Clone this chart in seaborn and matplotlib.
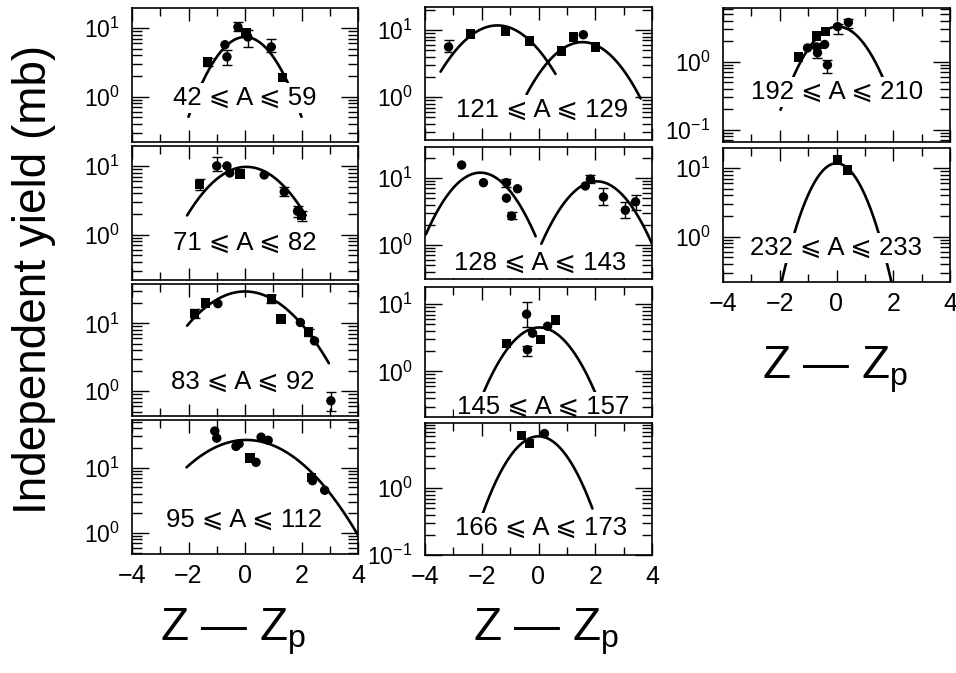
import numpy as np
import pandas as pd
import matplotlib
matplotlib.use("Agg")
import matplotlib.pyplot as plt
import seaborn as sns
from matplotlib.ticker import LogLocator, NullFormatter, LogFormatterSciNotation, FixedLocator

# ---------------------------------------------------------------------------
# Independent fission-product yields vs. charge offset Z - Zp, by mass window
# ---------------------------------------------------------------------------
mass_ranges = [(42, 59), (71, 82), (83, 92), (95, 112),
               (121, 129), (128, 143), (145, 157), (166, 173),
               (192, 210), (232, 233)]

# measured points: charge offset, yield (mb), kind of measurement
z_42_59 = [-1.32, -0.71, -0.64, -0.25, 0.04, 0.10, 0.93, 1.32]
y_42_59 = [3.2, 5.7, 3.8, 10.3, 8.5, 7.4, 5.3, 1.9]
k_42_59 = ["s", "c", "c", "c", "s", "c", "c", "s"]
lo_42_59 = [2.8, np.nan, 2.9, 9.0, np.nan, 5.3, 4.4, np.nan]
hi_42_59 = [3.6, np.nan, 4.8, 12.2, np.nan, 9.3, 6.9, np.nan]

z_71_82 = [-1.61, -1.00, -0.64, -0.54, -0.18, 0.68, 1.39, 1.86, 2.00]
y_71_82 = [5.4, 10.0, 10.0, 7.9, 7.6, 7.4, 4.2, 2.2, 1.9]
k_71_82 = ["s", "c", "c", "c", "s", "c", "c", "c", "s"]
lo_71_82 = [4.5, 8.5, np.nan, np.nan, np.nan, np.nan, 3.6, 1.8, 1.6]
hi_71_82 = [6.5, 13.4, np.nan, np.nan, np.nan, np.nan, 4.9, 2.6, 2.2]

z_83_92 = [-1.78, -1.39, -0.96, 0.93, 1.28, 1.96, 2.25, 2.46, 3.04]
y_83_92 = [14.0, 20.0, 19.5, 23.0, 11.5, 10.3, 7.4, 5.5, 0.72]
k_83_92 = ["s", "s", "c", "s", "s", "c", "s", "c", "c"]
lo_83_92 = [12.0, np.nan, np.nan, 20.0, np.nan, np.nan, 6.6, np.nan, 0.51]
hi_83_92 = [16.5, np.nan, np.nan, 26.0, np.nan, np.nan, 8.3, np.nan, 0.97]

z_95_112 = [-1.07, -1.00, -0.32, -0.21, 0.18, 0.39, 0.57, 0.82, 2.36, 2.39, 2.82]
y_95_112 = [36.0, 28.0, 21.0, 23.0, 14.0, 12.0, 29.0, 26.0, 7.1, 6.3, 4.5]
k_95_112 = ["c", "c", "c", "c", "s", "c", "c", "c", "s", "c", "c"]
lo_95_112 = [np.nan] * 11
hi_95_112 = [np.nan] * 11

z_121_129 = [-3.17, -2.39, -1.16, -0.32, 0.81, 1.23, 1.58, 2.00]
y_121_129 = [5.6, 8.7, 9.7, 6.9, 4.9, 7.9, 8.5, 5.6]
k_121_129 = ["c", "s", "s", "s", "s", "s", "c", "s"]
lo_121_129 = [4.7, np.nan, np.nan, np.nan, np.nan, np.nan, np.nan, np.nan]
hi_121_129 = [7.1, np.nan, np.nan, np.nan, np.nan, np.nan, np.nan, np.nan]

z_128_143 = [-2.71, -1.94, -1.13, -1.13, -0.95, -0.74, 1.65, 1.83, 2.29, 3.06, 3.42]
y_128_143 = [15.6, 8.5, 8.5, 5.0, 2.7, 6.9, 7.6, 9.6, 5.2, 3.3, 4.4]
k_128_143 = ["c"] * 11
lo_128_143 = [np.nan, np.nan, 7.3, np.nan, 2.4, np.nan, np.nan, 8.4, 4.0, 2.5, 3.3]
hi_128_143 = [np.nan, np.nan, 9.7, np.nan, 3.1, np.nan, np.nan, 11.0, 7.1, 4.4, 5.6]

z_145_157 = [-1.13, -0.42, -0.39, -0.21, 0.07, 0.32, 0.60]
y_145_157 = [2.6, 7.1, 2.1, 3.7, 3.0, 4.7, 5.8]
k_145_157 = ["s", "c", "c", "c", "s", "c", "s"]
lo_145_157 = [np.nan, 4.6, 1.7, np.nan, np.nan, np.nan, np.nan]
hi_145_157 = [np.nan, 10.7, 2.4, np.nan, np.nan, np.nan, np.nan]

z_166_173 = [-0.60, -0.32, 0.21]
y_166_173 = [6.2, 4.7, 6.6]
k_166_173 = ["s", "s", "c"]
lo_166_173 = [np.nan] * 3
hi_166_173 = [np.nan] * 3

z_192_210 = [-1.34, -1.02, -0.70, -0.70, -0.67, -0.42, -0.39, -0.32, 0.04, 0.42]
y_192_210 = [1.18, 1.6, 2.4, 1.66, 1.36, 1.8, 2.8, 0.9, 3.3, 3.8]
k_192_210 = ["s", "c", "s", "c", "c", "c", "s", "c", "c", "c"]
lo_192_210 = [np.nan, np.nan, np.nan, np.nan, 1.15, np.nan, np.nan, 0.69, 2.6, 3.2]
hi_192_210 = [np.nan, np.nan, np.nan, np.nan, 1.6, np.nan, np.nan, 1.07, 3.6, 4.3]

z_232_233 = [0.04, 0.39]
y_232_233 = [13.0, 9.3]
k_232_233 = ["s", "s"]
lo_232_233 = [np.nan] * 2
hi_232_233 = [np.nan] * 2

# Gaussian charge-dispersion fits: peak yield (mb), centroid, width, z-range
fit_42_59 = [(7.4, 0.00, 0.865, -2.00, 2.00)]
fit_71_82 = [(9.7, 0.05, 1.165, -2.05, 2.15)]
fit_83_92 = [(29.5, 0.00, 1.345, -2.05, 2.97)]
fit_95_112 = [(26.3, 0.05, 1.528, -2.07, 4.00)]
fit_121_129 = [(11.7, -1.45, 1.123, -3.45, 0.60), (6.6, 1.55, 1.042, -0.42, 3.60)]
fit_128_143 = [(12.0, -2.05, 0.932, -3.97, -0.10), (8.9, 2.05, 0.941, 0.10, 4.00)]
fit_145_157 = [(4.5, 0.03, 0.932, -1.95, 2.00)]
fit_166_173 = [(6.0, 0.00, 0.851, -1.97, 1.90)]
fit_192_210 = [(3.3, 0.05, 0.851, -1.97, 1.97)]
fit_232_233 = [(11.7, 0.00, 0.687, -2.00, 2.00)]

panels_data = [
    (z_42_59, y_42_59, k_42_59, lo_42_59, hi_42_59, fit_42_59),
    (z_71_82, y_71_82, k_71_82, lo_71_82, hi_71_82, fit_71_82),
    (z_83_92, y_83_92, k_83_92, lo_83_92, hi_83_92, fit_83_92),
    (z_95_112, y_95_112, k_95_112, lo_95_112, hi_95_112, fit_95_112),
    (z_121_129, y_121_129, k_121_129, lo_121_129, hi_121_129, fit_121_129),
    (z_128_143, y_128_143, k_128_143, lo_128_143, hi_128_143, fit_128_143),
    (z_145_157, y_145_157, k_145_157, lo_145_157, hi_145_157, fit_145_157),
    (z_166_173, y_166_173, k_166_173, lo_166_173, hi_166_173, fit_166_173),
    (z_192_210, y_192_210, k_192_210, lo_192_210, hi_192_210, fit_192_210),
    (z_232_233, y_232_233, k_232_233, lo_232_233, hi_232_233, fit_232_233),
]

# ---------------------------------------------------------------------------
# layout (figure pixels, y measured from the top) and axis ranges
# ---------------------------------------------------------------------------
W, H = 956, 673
boxes = [
    (132, 8, 358, 142), (132, 146, 358, 280), (132, 284, 358, 416), (132, 420, 358, 554),
    (425, 7, 652, 140), (425, 147, 652, 279), (425, 287, 652, 417), (425, 423, 652, 555),
    (723, 8, 950, 142), (723, 148, 950, 282),
]
ylims = [(0.22, 19.5), (0.22, 19.5), (0.43, 38.0), (0.48, 53.0),
         (0.23, 22.0), (0.31, 29.0), (0.21, 18.0), (0.10, 9.5),
         (0.066, 6.2), (0.22, 19.5)]
# label centres in figure pixels
label_pos = [(245, 98), (245, 243), (243, 382), (244, 520),
             (542, 110), (540, 263), (543, 407), (541, 528),
             (837, 92), (836, 248)]
bottom_panels = {3, 7, 9}

sns.set_theme(style="ticks")
plt.rcParams["font.family"] = ["Liberation Sans", "DejaVu Sans"]
plt.rcParams["mathtext.fontset"] = "custom"
plt.rcParams["mathtext.rm"] = "Liberation Sans"
plt.rcParams["axes.linewidth"] = 1.2

fig = plt.figure(figsize=(W / 100, H / 100), dpi=100)
fig.patch.set_facecolor("white")

marker_map = {"c": "o", "s": "s"}

for i, (box, ylim, (zs, ys, ks, los, his, fits)) in enumerate(zip(boxes, ylims, panels_data)):
    x0, y0, x1, y1 = box
    ax = fig.add_axes([x0 / W, 1 - y1 / H, (x1 - x0) / W, (y1 - y0) / H])
    ax.set_facecolor("white")

    # fitted Gaussian charge distributions
    for (peak, zc, sig, zmin, zmax) in fits:
        zz = np.linspace(zmin, zmax, 200)
        curve = pd.DataFrame({"z": zz, "y": peak * np.exp(-(zz - zc) ** 2 / (2 * sig ** 2))})
        sns.lineplot(data=curve, x="z", y="y", color="black", linewidth=1.9,
                     ax=ax, zorder=2, legend=False)

    df = pd.DataFrame({"z": zs, "y": ys, "kind": ks, "lo": los, "hi": his})
    err = df.dropna(subset=["lo"])
    if len(err):
        ax.errorbar(err["z"], err["y"], yerr=[err["y"] - err["lo"], err["hi"] - err["y"]],
                    fmt="none", ecolor="black", elinewidth=1.0, capsize=3.5,
                    capthick=1.0, zorder=3)
    sns.scatterplot(data=df, x="z", y="y", style="kind", markers=marker_map,
                    color="black", edgecolor="black", linewidth=0, s=46,
                    legend=False, ax=ax, zorder=4)

    ax.set_yscale("log")
    ax.set_xlim(-4, 4)
    ax.set_ylim(*ylim)
    ax.set_xlabel("")
    ax.set_ylabel("")

    ax.xaxis.set_major_locator(FixedLocator([-4, -2, 0, 2, 4]))
    ax.xaxis.set_minor_locator(FixedLocator([-3, -1, 1, 3]))
    ax.yaxis.set_major_locator(LogLocator(base=10))
    ax.yaxis.set_minor_locator(LogLocator(base=10, subs=np.arange(2, 10)))
    ax.yaxis.set_major_formatter(LogFormatterSciNotation())
    ax.yaxis.set_minor_formatter(NullFormatter())
    ax.tick_params(which="both", direction="in", top=True, right=True,
                   color="black", labelcolor="black", width=1.0)
    ax.tick_params(axis="x", which="major", length=9, labelsize=18, pad=7)
    ax.tick_params(axis="x", which="minor", length=6)
    ax.tick_params(axis="y", which="major", length=12, labelsize=16.5, pad=9)
    ax.tick_params(axis="y", which="minor", length=7)
    if i not in bottom_panels:
        ax.tick_params(axis="x", labelbottom=False)
    for sp in ax.spines.values():
        sp.set_color("black")

    lo_m, hi_m = mass_ranges[i]
    lx, ly = label_pos[i]
    ax.text((lx - x0) / (x1 - x0), (y1 - ly) / (y1 - y0),
            f"{lo_m} \u2a7d A \u2a7d {hi_m}", transform=ax.transAxes,
            ha="center", va="center", fontsize=18.5, color="black", zorder=2.3,
            bbox=dict(facecolor="white", edgecolor="none", pad=2.0))

# shared axis titles
fig.text(34 / W, 1 - 279 / H, "Independent yield (mb)", rotation=90,
         ha="center", va="center", fontsize=33, color="black")
zlabel = "Z \u2014 Z$_{\\mathregular{p}}$"
for (cx, cy) in [(233, 632), (546, 632), (835, 370)]:
    fig.text(cx / W, 1 - cy / H, zlabel, ha="center", va="center",
             fontsize=33, color="black")

fig.savefig("out.png", dpi=100, facecolor="white")
